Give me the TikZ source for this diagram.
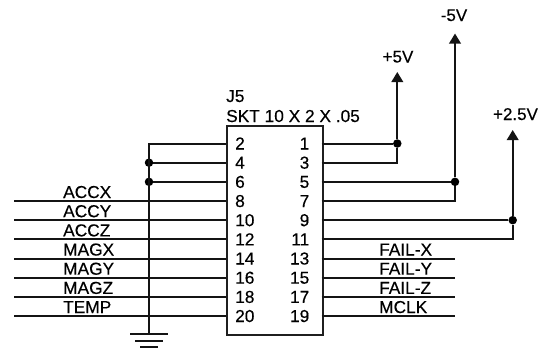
\documentclass[tikz,border=0pt]{standalone}
\usepackage{fontspec}
\setmainfont[FakeBold=0.3]{Liberation Sans}
\usetikzlibrary{arrows.meta}
\tikzset{
  wire/.style={line width=2pt,black!92},
  boxline/.style={line width=2.2pt,black!88},
  dotnode/.style={circle,fill=black,inner sep=0pt,minimum size=8.5pt},
  lbl/.style={anchor=base west,inner sep=0pt,font=\fontsize{17.3}{17.3}\selectfont},
  rail/.style={anchor=base,inner sep=0pt,font=\fontsize{17}{17}\selectfont},
  pinl/.style={anchor=base west,inner sep=0pt,font=\fontsize{17.3}{17.3}\selectfont},
  pinr/.style={anchor=base east,inner sep=0pt,font=\fontsize{17.3}{17.3}\selectfont},
  up/.style={wire,-{Triangle[width=11.5pt,length=10pt]}},
}
\begin{document}
\begin{tikzpicture}[x=1pt,y=-1pt]
\useasboundingbox (0,0) rectangle (543,351);
\fill[white] (0,0) rectangle (543,351);
% connector body
\node[boxline,draw,minimum width=96pt,minimum height=209pt,inner sep=0pt,anchor=north west] (J) at (225.7,125) {};
\node[lbl] (jname) at (226,102) {J5};
\node[lbl] (jval) at (226,122) {SKT 10 X 2 X .05};
% pin numbers and end points
\foreach \n/\i in {2/0,4/1,6/2,8/3,10/4,12/5,14/6,16/7,18/8,20/9}{
  \pgfmathsetmacro{\yy}{143.5+19.17*\i}
  \coordinate (p\n) at (225.7,\yy);
  \node[pinl] (n\n) at (235,\yy+6) {\n};
}
\foreach \n/\i in {1/0,3/1,5/2,7/3,9/4,11/5,13/6,15/7,17/8,19/9}{
  \pgfmathsetmacro{\yy}{143.5+19.17*\i}
  \coordinate (p\n) at (321.7,\yy);
  \node[pinr] (n\n) at (309.5,\yy+6) {\n};
}
% ground bus
\coordinate (gtop) at (149,143.5);
\coordinate (gnd) at (149,334);
\node[dotnode] (d4) at (p4 -| gtop) {};
\node[dotnode] (d6) at (p6 -| gtop) {};
\draw[wire] (p2) -- (gtop) -- (gnd);
\draw[wire] (p4) -- (d4);
\draw[wire] (p6) -- (d6);
\coordinate (g1a) at (130,334); \coordinate (g1b) at (167.5,334);
\coordinate (g2a) at (135,340.5); \coordinate (g2b) at (163,340.5);
\coordinate (g3a) at (140,347); \coordinate (g3b) at (157.5,347);
\draw[wire] (g1a) -- (g1b);
\draw[wire] (g2a) -- (g2b);
\draw[wire] (g3a) -- (g3b);
% left signals
\coordinate (lx) at (14,0);
\coordinate (rx) at (455,0);
\foreach \n/\t in {8/ACCX,10/ACCY,12/ACCZ,14/MAGX,16/MAGY,18/MAGZ,20/TEMP}{
  \coordinate (s\n) at (p\n -| lx);
  \draw[wire] (s\n) -- (p\n);
  \node[lbl] (t\n) at ([xshift=49pt,yshift=3pt]s\n) {\t};
}
% right signals
\foreach \n/\t in {13/FAIL-X,15/FAIL-Y,17/FAIL-Z,19/MCLK}{
  \coordinate (s\n) at (p\n -| rx);
  \draw[wire] (p\n) -- (s\n);
  \node[lbl] (t\n) at ([xshift=-76pt,yshift=3pt]s\n) {\t};
}
% supply rails
\node[dotnode] (d5v) at (397.3,143.5) {};
\node[dotnode] (dm5) at (455,181.84) {};
\node[dotnode] (d25) at (512.7,220.18) {};
\coordinate (a5v) at (397.3,72);
\coordinate (am5) at (455,33.5);
\coordinate (a25) at (512.7,130);
\draw[wire] (p1) -- (d5v);
\draw[wire] (p5) -- (dm5);
\draw[wire] (p9) -- (d25);
\draw[wire] (p3) -| (d5v);
\draw[wire] (p7) -| (dm5);
\draw[wire] (p11) -| (d25);
\draw[up] (d5v) -- (a5v);
\draw[up] (dm5) -- (am5);
\draw[up] (d25) -- (a25);
\node[rail] (l5v) at (398,62.5) {+5V};
\node[rail] (lm5) at (454,21) {-5V};
\node[rail] (l25) at (515.5,120) {+2.5V};
\end{tikzpicture}
\end{document}
